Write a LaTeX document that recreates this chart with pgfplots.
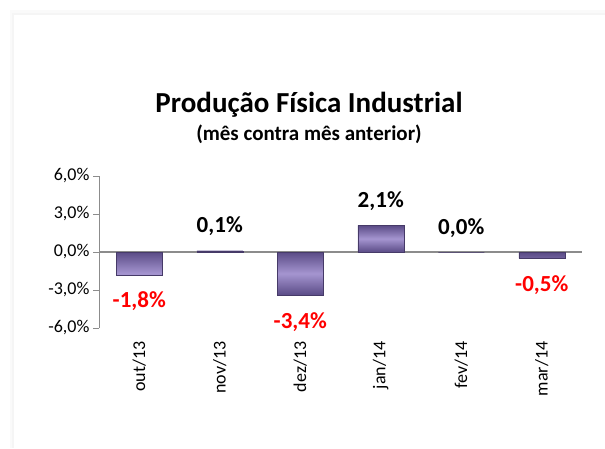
\documentclass[border=0pt]{standalone}
\usepackage{pgfplots}
\pgfplotsset{compat=1.18}
\usepackage{fontspec}
\setmainfont{Carlito}
\definecolor{bardark}{HTML}{5A4B86}
\definecolor{barlight}{HTML}{A595D0}
\definecolor{barborder}{HTML}{463A68}
\definecolor{axgray}{HTML}{8C8C8C}
\begin{document}
\begin{tikzpicture}[x=1pt,y=1pt]
\path[use as bounding box] (0,0) rectangle (605,448);
\fill[black!2] (10,0) rectangle (605,438);
\fill[black!4] (12,0) rectangle (605,435);
\fill[white] (14,0) rectangle (605,433);
\node[font=\bfseries\fontsize{29}{32}\selectfont, anchor=base, inner sep=0pt] at (309,335) {Produção Física Industrial};
\node[font=\bfseries\fontsize{21}{24}\selectfont, anchor=base, inner sep=0pt] at (309,307) {(mês contra mês anterior)};
\begin{axis}[
  at={(99pt,120pt)}, anchor=south west,
  scale only axis, width=483pt, height=152pt,
  xmin=-0.5, xmax=5.5, ymin=-6, ymax=6,
  axis lines*=left,
  x axis line style={draw=none},
  y axis line style={axgray, line width=1pt},
  xtick={0,1,2,3,4,5},
  xticklabels={out/13,nov/13,dez/13,jan/14,fev/14,mar/14},
  xtick style={draw=none},
  xticklabel style={rotate=90, anchor=east, font=\fontsize{18}{20}\selectfont},
  xticklabel shift=4pt,
  ytick={-6,-3,0,3,6},
  yticklabel={\pgfmathprintnumber[assume math mode=true,fixed,fixed zerofill,precision=1,use comma]{\tick}\%},
  yticklabel style={font=\fontsize{18}{20}\selectfont},
  ytick style={axgray, line width=1pt},
  tick align=outside,
  major tick length=6pt,
  extra y ticks={0},
  extra y tick labels={},
  extra y tick style={grid=major, major grid style={axgray, line width=1.2pt}},
  clip=false,
]
\addplot[ybar, bar width=46pt, bar shift=0pt, draw=barborder,
  top color=bardark, bottom color=bardark, middle color=barlight,
  nodes near coords={\pgfmathprintnumber[assume math mode=true,fixed,fixed zerofill,precision=1,use comma]{\pgfplotspointmeta}\%},
  nodes near coords style={font=\bfseries\fontsize{23}{25}\selectfont, text=black, anchor=base, inner sep=0pt, yshift=18pt}]
  coordinates {(1,0.1) (3,2.1) (4,0.0)};
\addplot[ybar, bar width=46pt, bar shift=0pt, draw=barborder,
  top color=bardark, bottom color=bardark, middle color=barlight,
  nodes near coords={\pgfmathprintnumber[assume math mode=true,fixed,fixed zerofill,precision=1,use comma]{\pgfplotspointmeta}\%},
  nodes near coords style={font=\bfseries\fontsize{23}{25}\selectfont, text=red, anchor=north, inner sep=0pt, yshift=-17pt}]
  coordinates {(0,-1.8) (2,-3.4) (5,-0.5)};
\end{axis}
\end{tikzpicture}
\end{document}
